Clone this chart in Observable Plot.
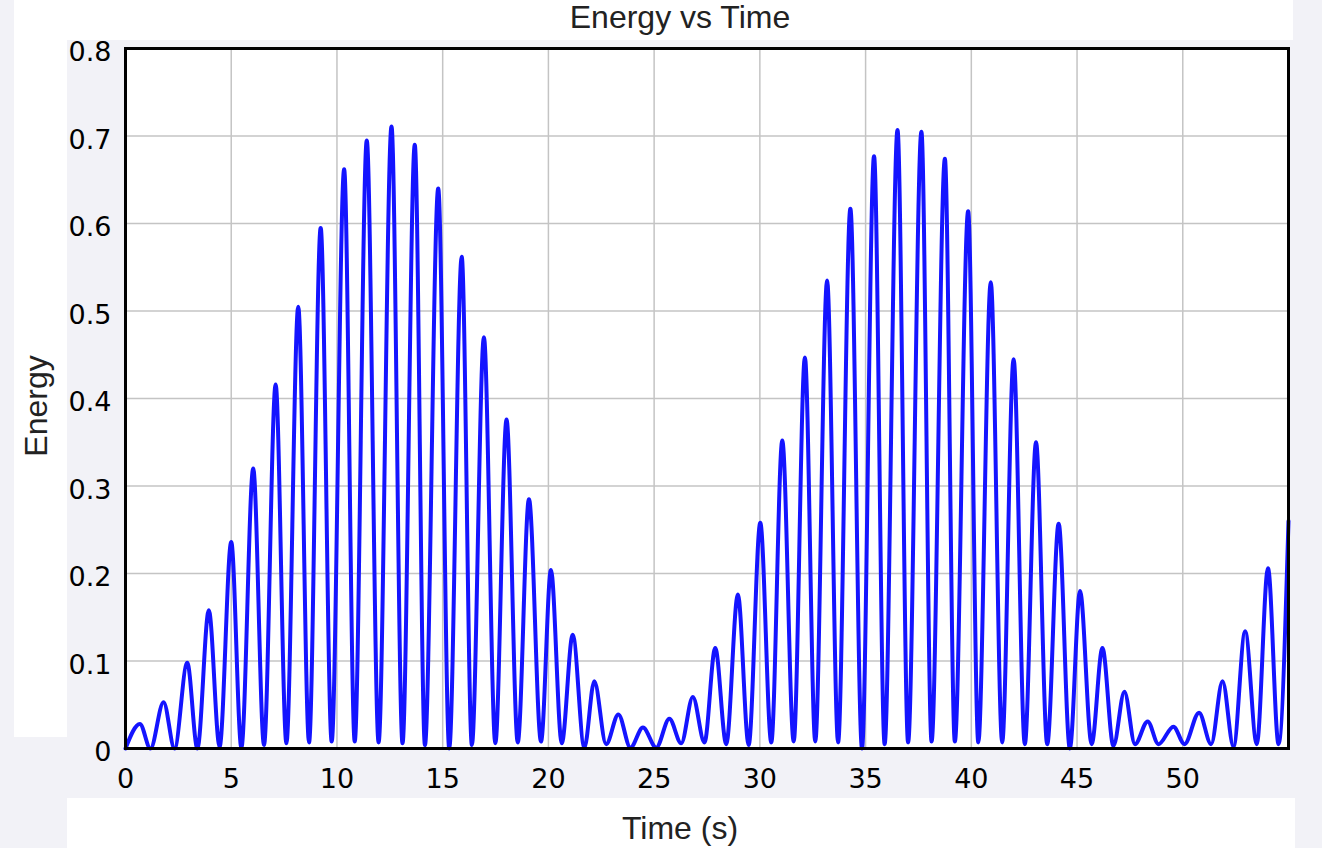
<!DOCTYPE html>
<html>
<head>
<meta charset="utf-8">
<script src="https://cdn.jsdelivr.net/npm/d3@7"></script>
<script src="https://cdn.jsdelivr.net/npm/@observablehq/plot@0.6"></script>
<style>
  html, body { margin: 0; padding: 0; }
  body { width: 1322px; height: 848px; background: #f2f2f7; position: relative; overflow: hidden; }
  .panel { position: absolute; background: #ffffff; }
  .lbl { position: absolute; font-family: "Liberation Sans", Arial, sans-serif; font-size: 32px; color: #222; white-space: nowrap; line-height: 32px; }
  #chart { position: absolute; left: 0; top: 0; }
</style>
</head>
<body>
<div class="panel" style="left:14px; top:0; width:1279px; height:40px;"></div>
<div class="panel" style="left:14px; top:0; width:53px; height:737px;"></div>
<div class="panel" style="left:67px; top:798px; width:1228px; height:50px;"></div>
<div id="chart"></div>
<div class="lbl" style="left:680px; top:17px; transform:translate(-50%,-50%);">Energy vs Time</div>
<div class="lbl" style="left:680px; top:828px; transform:translate(-50%,-50%);">Time (s)</div>
<div class="lbl" style="left:36px; top:406px; transform:translate(-50%,-50%) rotate(-90deg);">Energy</div>
<script>
// Peak / trough times (s)
const times = [0,
  0.68, 1.18, 1.80, 2.32, 2.92, 3.40, 3.94, 4.45, 5.00, 5.48,
  6.04, 6.55, 7.10, 7.61, 8.17, 8.68, 9.23, 9.75, 10.34, 10.84,
  11.41, 11.97, 12.58, 13.10, 13.68, 14.16, 14.79, 15.31, 15.90, 16.38,
  16.95, 17.49, 18.02, 18.55, 19.08, 19.65, 20.12, 20.63, 21.15, 21.70,
  22.17, 22.73, 23.31, 23.88, 24.47, 25.10, 25.72, 26.28, 26.83, 27.38,
  27.89, 28.41, 28.96, 29.47, 30.02, 30.54, 31.06, 31.60, 32.13, 32.62,
  33.18, 33.70, 34.28, 34.83, 35.40, 35.90, 36.51, 37.01, 37.64, 38.12,
  38.75, 39.22, 39.85, 40.33, 40.92, 41.46, 42.00, 42.53, 43.06, 43.59,
  44.13, 44.66, 45.14, 45.69, 46.20, 46.72, 47.24, 47.74, 48.34, 48.85,
  49.56, 50.08, 50.77, 51.34, 51.88, 52.40, 52.95, 53.50, 54.03, 54.53,
  55];
// Energy at those times
const energies = [0,
  0.028, 0.000, 0.053, 0.000, 0.098, 0.000, 0.158, 0.002, 0.236, 0.001,
  0.320, 0.004, 0.416, 0.006, 0.505, 0.007, 0.595, 0.008, 0.662, 0.008,
  0.695, 0.007, 0.711, 0.006, 0.690, 0.004, 0.640, 0.000, 0.562, 0.004,
  0.470, 0.006, 0.376, 0.007, 0.285, 0.008, 0.204, 0.006, 0.130, 0.001,
  0.077, 0.005, 0.039, 0.001, 0.024, 0.001, 0.034, 0.006, 0.059, 0.007,
  0.115, 0.005, 0.176, 0.004, 0.258, 0.007, 0.352, 0.008, 0.447, 0.008,
  0.535, 0.007, 0.617, 0.000, 0.677, 0.005, 0.707, 0.007, 0.705, 0.008,
  0.674, 0.008, 0.614, 0.007, 0.533, 0.007, 0.445, 0.005, 0.350, 0.005,
  0.257, 0.000, 0.180, 0.005, 0.115, 0.003, 0.065, 0.005, 0.031, 0.005,
  0.025, 0.005, 0.041, 0.005, 0.077, 0.002, 0.134, 0.005, 0.206, 0.005,
  0.260];
const xTicks = [0, 5, 10, 15, 20, 25, 30, 35, 40, 45, 50];
const yTicks = [0, 0.1, 0.2, 0.3, 0.4, 0.5, 0.6, 0.7, 0.8];
const xGrid = [5, 10, 15, 20, 25, 30, 35, 40, 45, 50];
const yGrid = [0.1, 0.2, 0.3, 0.4, 0.5, 0.6, 0.7];

const data = times.map((t, i) => ({t, e: energies[i]}));

const chart = Plot.plot({
  width: 1322,
  height: 848,
  marginTop: 48,
  marginLeft: 125,
  marginRight: 34,
  marginBottom: 100,
  style: {background: "transparent", fontFamily: "'DejaVu Sans', Verdana, sans-serif", fontSize: "27px", color: "#000"},
  x: {domain: [0, 55]},
  y: {domain: [0, 0.8]},
  marks: [
    Plot.frame({fill: "#ffffff", stroke: null}),
    Plot.gridX(xGrid, {stroke: "#c4c4c4", strokeOpacity: 1, strokeWidth: 1.5}),
    Plot.gridY(yGrid, {stroke: "#c4c4c4", strokeOpacity: 1, strokeWidth: 1.5}),
    Plot.line(data, {x: "t", y: "e", curve: "monotone-x", stroke: "#1414ff", strokeWidth: 4}),
    Plot.frame({stroke: "#000", strokeWidth: 3}),
    Plot.axisX(xTicks, {tickSize: 0, tickPadding: 20, label: null, tickFormat: d => String(d), fontSize: 27}),
    Plot.axisY(yTicks, {tickSize: 0, tickPadding: 14, dy: 4, label: null, tickFormat: d => d === 0 ? "0" : d.toFixed(1), fontSize: 27})
  ]
});
document.getElementById("chart").appendChild(chart);
</script>
</body>
</html>
